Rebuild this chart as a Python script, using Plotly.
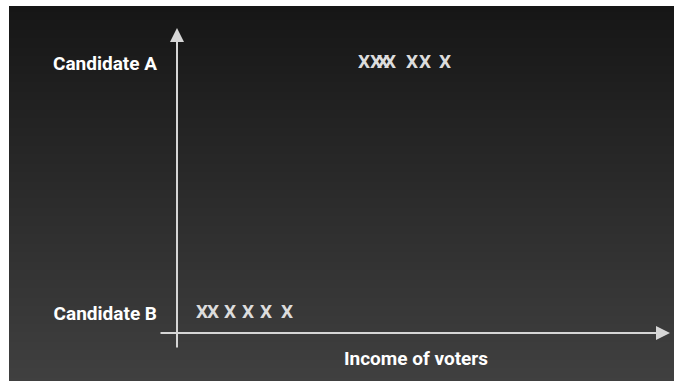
import plotly.graph_objects as go

# ---- data ----
candidates = ["Candidate B", "Candidate A"]
candidate_a_income = [37.4, 39.8, 41.2, 42.6, 47.0, 49.6, 53.6]
candidate_b_income = [5.0, 7.2, 10.6, 14.2, 17.8, 22.0]
x_title = "Income of voters"

W, H = 674, 381
L, R, T, B = 177, 19, 0, 48
PW, PH = W - L - R, H - T - B
FONT = "Roboto, Lato, Liberation Sans, sans-serif"


def px_x(p):
    return (p - L) / PW


def px_y(p):
    return (H - B - p) / PH


fig = go.Figure()
fig.add_trace(go.Scatter(
    x=candidate_a_income, y=[1] * len(candidate_a_income), mode="text",
    text=["X"] * len(candidate_a_income), textposition="middle center",
    textfont=dict(family=FONT, size=19, color="#dcdcdc", weight="bold"),
    showlegend=False, hoverinfo="x"))
fig.add_trace(go.Scatter(
    x=candidate_b_income, y=[0] * len(candidate_b_income), mode="text",
    text=["X"] * len(candidate_b_income), textposition="middle center",
    textfont=dict(family=FONT, size=19, color="#dcdcdc", weight="bold"),
    showlegend=False, hoverinfo="x"))

# gradient background as bands
shapes = []
top, bot = 6, H
step = 2
c0, c1 = 22, 64
y = top
while y < bot:
    t = (y - top) / (bot - top)
    c = round(c0 + (c1 - c0) * t)
    shapes.append(dict(type="rect", xref="paper", yref="paper",
                       x0=px_x(9), x1=px_x(W + 20), y0=px_y(min(y + step + 0.5, bot + 20)), y1=px_y(y),
                       fillcolor=f"rgb({c},{c},{c})", line=dict(width=0), layer="below"))
    y += step
# white frame strips (left and top)
shapes.append(dict(type="rect", xref="paper", yref="paper", x0=px_x(-5), x1=px_x(9),
                   y0=px_y(H + 10), y1=px_y(-5), fillcolor="white", line=dict(width=0), layer="below"))
shapes.append(dict(type="rect", xref="paper", yref="paper", x0=px_x(-5), x1=px_x(W + 20),
                   y0=px_y(6), y1=px_y(-5), fillcolor="white", line=dict(width=0), layer="below"))

axis_col = "#d6d6d6"
annotations = [
    dict(xref="paper", yref="paper", x=px_x(177), y=px_y(28), ax=0, ay=349 - 28,
         text="", showarrow=True, arrowhead=2, arrowsize=1.4, arrowwidth=2,
         arrowcolor=axis_col, standoff=0),
    dict(xref="paper", yref="paper", x=px_x(670), y=px_y(333), ax=159 - 670, ay=0,
         text="", showarrow=True, arrowhead=2, arrowsize=1.4, arrowwidth=2,
         arrowcolor=axis_col, standoff=0),
]

fig.update_layout(
    width=W, height=H,
    margin=dict(l=L, r=R, t=T, b=B),
    paper_bgcolor="rgb(64,64,64)",
    plot_bgcolor="rgba(0,0,0,0)",
    shapes=shapes,
    annotations=annotations,
    xaxis=dict(range=[0, PW / 5], showgrid=False, zeroline=False, showline=False,
               showticklabels=False, ticks="",
               title=dict(text=x_title, standoff=18,
                          font=dict(family=FONT, size=19, color="white", weight="bold"))),
    yaxis=dict(range=[-20 / 250, 1 + 63 / 250], showgrid=False, zeroline=False,
               showline=False, tickmode="array", tickvals=[0, 1], ticktext=candidates,
               ticks="", ticklabelstandoff=19,
               tickfont=dict(family=FONT, size=19, color="white", weight="bold")),
)

fig.write_html("out.html", config={"displayModeBar": False},
               post_script="document.body.style.margin='0px';document.body.style.background='rgb(64,64,64)';")
